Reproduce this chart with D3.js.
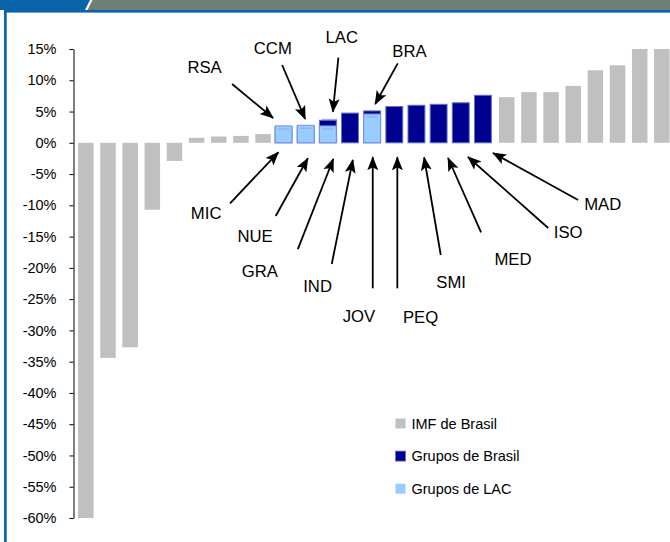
<!DOCTYPE html>
<html>
<head>
<meta charset="utf-8">
<script src="https://cdn.jsdelivr.net/npm/d3@7"></script>
<style>
  html, body { margin: 0; padding: 0; background: #ffffff; }
  svg { display: block; font-family: Arial, "Liberation Sans", sans-serif; }
</style>
</head>
<body>
<svg id="chart" width="670" height="542"></svg>
<script>
// ---- data ----------------------------------------------------------
// 27 bar slots, left to right
const slots = ["s01","s02","s03","s04","s05","s06","s07","s08","s09",
               "s10","s11","s12","s13","s14","s15","s16","s17","s18","s19",
               "s20","s21","s22","s23","s24","s25","s26","s27"];

// IMF de Brasil (%)
const imfBrasil = [-60, -34.4, -32.7, -10.7, -2.9, 0.8, 1.0, 1.1, 1.4,
                   null, null, 3.85, null, null, null, null, null, null, null,
                   7.3, 8.1, 8.1, 9.1, 11.6, 12.4, 15.0, 15.0];

// Grupos de Brasil (%)
const gruposBrasil = [null, null, null, null, null, null, null, null, null,
                      2.5, 2.6, 3.6, 4.75, 5.1, 5.8, 6.0, 6.15, 6.4, 7.6,
                      null, null, null, null, null, null, null, null];
const gruposBrasilNames = [null, null, null, null, null, null, null, null, null,
                      "MIC", "NUE", "GRA", "IND", "JOV", "PEQ", "SMI", "MED", "ISO", "MAD",
                      null, null, null, null, null, null, null, null];

// Grupos de LAC (%)
const gruposLAC = [null, null, null, null, null, null, null, null, null,
                   2.7, 2.8, 2.7, null, 4.6, null, null, null, null, null,
                   null, null, null, null, null, null, null, null];
const gruposLACNames = [null, null, null, null, null, null, null, null, null,
                   "RSA", "CCM", "LAC", null, "BRA", null, null, null, null, null,
                   null, null, null, null, null, null, null, null];

const yTicks = [15, 10, 5, 0, -5, -10, -15, -20, -25, -30, -35, -40, -45, -50, -55, -60];

const legendItems = ["IMF de Brasil", "Grupos de Brasil", "Grupos de LAC"];

// Callout placement in chart units: first number = slot position
// (0 = centre of first slot), second = percent on the value axis.
const callouts = {
  RSA: { text: [5.36, 11.1],  from: [6.60, 9.40],   to: [8.45, 3.97] },
  CCM: { text: [8.44, 14.2],  from: [8.86, 12.44],  to: [9.90, 3.81] },
  LAC: { text: [11.55, 15.96], from: [11.40, 13.61], to: [11.15, 4.97] },
  BRA: { text: [14.61, 13.72], from: [14.08, 12.71], to: [13.06, 6.20] },
  MIC: { text: [5.43, -12.19], from: [6.51, -9.67],  to: [8.69, -1.52] },
  NUE: { text: [7.64, -15.82], from: [8.57, -11.71], to: [10.02, -2.48] },
  GRA: { text: [7.85, -21.41], from: [9.57, -17.0],  to: [11.17, -2.59] },
  IND: { text: [10.46, -23.81], from: [11.10, -19.38], to: [12.05, -2.75] },
  JOV: { text: [12.33, -28.7], from: [12.95, -23.27], to: [12.95, -2.32] },
  PEQ: { text: [15.11, -28.86], from: [14.06, -23.27], to: [14.06, -2.32] },
  SMI: { text: [16.49, -23.17], from: [16.02, -17.94], to: [15.27, -2.35] },
  MED: { text: [19.28, -19.54], from: [17.84, -14.31], to: [16.35, -2.43] },
  ISO: { text: [21.77, -15.22], from: [20.87, -13.62], to: [17.25, -2.27] },
  MAD: { text: [23.33, -10.75], from: [22.22, -9.16],  to: [18.38, -1.63] }
};

// ---- styles --------------------------------------------------------
const colGray = "#c0c0c0";
const colNavy = "#000090";
const colLight = "#99ccff";
const colBlue = "#0b64ab";
const colBand = "#6c8075";

// ---- scales --------------------------------------------------------
const svg = d3.select("#chart");

const x = d3.scaleBand()
  .domain(slots)
  .range([73, 674.7])
  .paddingInner(0.3)
  .paddingOuter(0.23);

const y = d3.scaleLinear()
  .domain([-60, 15])
  .range([518, 49]);

const px = i => x(slots[0]) + x.bandwidth() / 2 + i * x.step();
const pt = p => [px(p[0]), y(p[1])];

// ---- frame / header ------------------------------------------------
svg.append("polygon")
  .attr("points", "0,0 90,0 85,10 0,10")
  .attr("fill", colBlue);
svg.append("polygon")
  .attr("points", "92.5,0 670,0 670,10 87.5,10")
  .attr("fill", colBand);
svg.append("rect")
  .attr("x", 4).attr("y", 10).attr("width", 666).attr("height", 2.6)
  .attr("fill", colBlue);
svg.append("rect")
  .attr("x", 4).attr("y", 10).attr("width", 2.7).attr("height", 532)
  .attr("fill", colBlue);

// ---- bars ----------------------------------------------------------
const rows = (vals, names) => vals.map((v, i) => ({ slot: slots[i], v, name: names ? names[i] : null }))
  .filter(d => d.v !== null);

const barY = d => y(Math.max(0, d.v));
const barH = d => Math.abs(y(d.v) - y(0));

svg.append("g").selectAll("rect")
  .data(rows(imfBrasil))
  .join("rect")
  .attr("x", d => x(d.slot))
  .attr("y", barY)
  .attr("width", x.bandwidth())
  .attr("height", barH)
  .attr("fill", colGray);

// group series sit slightly wider and left of the IMF bars
const gx = d => x(d.slot) - 2.4;
const gw = x.bandwidth() + 1.4;

svg.append("g").selectAll("rect")
  .data(rows(gruposBrasil, gruposBrasilNames))
  .join("rect")
  .attr("x", gx)
  .attr("y", barY)
  .attr("width", gw)
  .attr("height", barH)
  .attr("fill", colNavy)
  .attr("stroke", "#6470cf")
  .attr("stroke-width", 1);

const lac = svg.append("g");
lac.selectAll("rect")
  .data(rows(gruposLAC, gruposLACNames))
  .join("rect")
  .attr("x", gx)
  .attr("y", barY)
  .attr("width", gw)
  .attr("height", barH)
  .attr("fill", colLight)
  .attr("stroke", "#7393e2")
  .attr("stroke-width", 1);
// faint highlight just under the top edge
lac.selectAll("line")
  .data(rows(gruposLAC, gruposLACNames))
  .join("line")
  .attr("x1", d => gx(d) + 3)
  .attr("x2", d => gx(d) + gw - 3)
  .attr("y1", d => barY(d) + 3)
  .attr("y2", d => barY(d) + 3)
  .attr("stroke", "#86aaee")
  .attr("stroke-width", 1);

// ---- axis ----------------------------------------------------------
const axis = svg.append("g")
  .attr("transform", "translate(73.5,0)")
  .call(d3.axisLeft(y)
    .tickValues(yTicks)
    .tickSize(4)
    .tickSizeOuter(0)
    .tickPadding(13)
    .tickFormat(d => d + "%"));
axis.select(".domain").attr("stroke", "#000");
axis.selectAll(".tick line").attr("stroke", "#000");
axis.selectAll(".tick text")
  .attr("font-family", "Arial, 'Liberation Sans', sans-serif")
  .attr("font-size", 14.5)
  .attr("fill", "#000");

// ---- callouts ------------------------------------------------------
svg.append("defs").append("marker")
  .attr("id", "head")
  .attr("viewBox", "0 -6 14 12")
  .attr("markerUnits", "userSpaceOnUse")
  .attr("markerWidth", 14)
  .attr("markerHeight", 12)
  .attr("refX", 13)
  .attr("refY", 0)
  .attr("orient", "auto")
  .append("path")
  .attr("d", "M0,-5.5L14,0L0,5.5L3,0Z")
  .attr("fill", "#000");

const labelNames = gruposLACNames.concat(gruposBrasilNames).filter(n => n);
const notes = svg.append("g");
notes.selectAll("line")
  .data(labelNames)
  .join("line")
  .attr("x1", n => pt(callouts[n].from)[0])
  .attr("y1", n => pt(callouts[n].from)[1])
  .attr("x2", n => pt(callouts[n].to)[0])
  .attr("y2", n => pt(callouts[n].to)[1])
  .attr("stroke", "#000")
  .attr("stroke-width", 1.8)
  .attr("marker-end", "url(#head)");
notes.selectAll("text")
  .data(labelNames)
  .join("text")
  .attr("x", n => pt(callouts[n].text)[0])
  .attr("y", n => pt(callouts[n].text)[1])
  .attr("text-anchor", "middle")
  .attr("font-size", 16.7)
  .attr("fill", "#000")
  .text(n => n);

// ---- legend --------------------------------------------------------
const legend = svg.append("g").attr("transform", "translate(395,418)");
const swatch = [
  { fill: colGray, stroke: "none" },
  { fill: colNavy, stroke: "#6470cf" },
  { fill: colLight, stroke: "none" }
];
const item = legend.selectAll("g")
  .data(legendItems)
  .join("g")
  .attr("transform", (d, i) => `translate(0,${i * 32.6})`);
item.append("rect")
  .attr("x", 0.5).attr("y", 0.5)
  .attr("width", 10).attr("height", 10)
  .attr("fill", (d, i) => swatch[i].fill)
  .attr("stroke", (d, i) => swatch[i].stroke)
  .attr("stroke-width", 0.8);
item.append("text")
  .attr("x", 16.5)
  .attr("y", 10.5)
  .attr("font-size", 14.5)
  .attr("fill", "#000")
  .text(d => d);
</script>
</body>
</html>
